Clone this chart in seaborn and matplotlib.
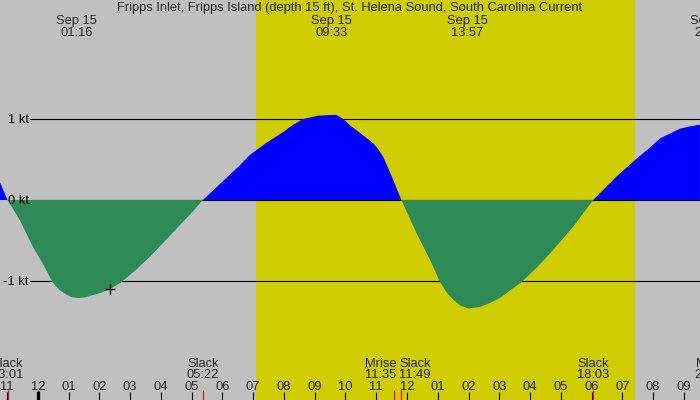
import numpy as np
import pandas as pd
import matplotlib
matplotlib.use("Agg")
import matplotlib.pyplot as plt
import seaborn as sns
from matplotlib.transforms import blended_transform_factory

# ---------------- data ----------------
title = "Fripps Inlet, Fripps Island (depth 15 ft), St. Helena Sound, South Carolina Current"

# hours after midnight Sep 15, current speed in knots
hours = [-1.23, -0.983, -0.58, -0.155, 0.20, 0.47, 0.70, 0.94, 1.10, 1.31,
         1.50, 1.65, 2.02, 2.35, 2.73, 3.20, 3.65, 4.10, 4.52, 4.95,
         5.367, 5.90, 6.57, 6.90, 7.45, 7.98, 8.30, 8.63, 9.10, 9.50,
         9.71, 9.93, 10.15, 10.50, 10.90, 11.06, 11.23, 11.38, 11.55, 11.817,
         12.31, 12.75, 13.07, 13.30, 13.50, 13.72, 13.99, 14.37, 14.70, 15.02,
         15.73, 16.20, 16.65, 17.40, 18.05, 18.81, 19.46, 19.90, 20.22, 20.87,
         21.20, 21.52]
speed = [0.22, 0.0, -0.25, -0.58, -0.81, -1.01, -1.11, -1.17, -1.20, -1.21,
         -1.205, -1.19, -1.15, -1.10, -1.01, -0.86, -0.70, -0.52, -0.35, -0.18,
         0.0, 0.19, 0.43, 0.56, 0.71, 0.84, 0.93, 1.00, 1.04, 1.05,
         1.05, 1.00, 0.92, 0.82, 0.70, 0.63, 0.53, 0.40, 0.25, 0.0,
         -0.41, -0.74, -1.01, -1.15, -1.23, -1.30, -1.34, -1.32, -1.27, -1.21,
         -1.01, -0.84, -0.66, -0.33, 0.0, 0.29, 0.51, 0.65, 0.76, 0.88,
         0.91, 0.93]

sunrise, sunset = 7.09, 19.41

peak_hours = [1.267, 9.55, 13.95, 21.86]
peak_dates = ["Sep 15", "Sep 15", "Sep 15", "Sep 15"]
peak_times = ["01:16", "09:33", "13:57", "21:52"]

event_hours = [-0.983, 5.367, 11.583, 11.817, 18.05, 21.86]
event_names = ["Slack", "Slack", "Mrise", "Slack", "Slack", "Mset"]
event_times = ["23:01", "05:22", "11:35", "11:49", "18:03", "21:52"]

tick_hours = list(range(-1, 22))
tick_labels = ["11", "12", "01", "02", "03", "04", "05", "06", "07", "08", "09",
               "10", "11", "12", "01", "02", "03", "04", "05", "06", "07", "08", "09"]

level_values = [1, 0, -1]
level_labels = ["1 kt", "0 kt", "-1 kt"]

now_hour, now_speed = 2.35, -1.10

# ---------------- style ----------------
GRAY = "#c0c0c0"
YELLOW = "#cfcc00"
BLUE = "#0000ff"
GREEN = "#2e8b57"

sns.set_style("white")
plt.rcParams["font.family"] = ["Liberation Sans", "DejaVu Sans"]
FS = 9.3

W, H = 700, 400
PX_PER_KT = 81.0
fig = plt.figure(figsize=(7, 4), dpi=100, facecolor=GRAY)
ax = fig.add_axes([0, 0, 1, 1])
ax.set_facecolor(GRAY)
for s in ax.spines.values():
    s.set_visible(False)

x0 = -1 - 7 / 30.77
x1 = x0 + W / 30.77

def ypx(p):
    return 1 - p / H

xT = ax.get_xaxis_transform()          # x data, y axes
yT = blended_transform_factory(ax.transAxes, ax.transData)

# daylight
ax.axvspan(sunrise, sunset, color=YELLOW, lw=0, zorder=0)

# level lines
for v in level_values:
    ax.axhline(v, xmin=30 / W, xmax=1, color="black", lw=0.8, zorder=1)

# current curve
df = pd.DataFrame({"hour": hours, "speed": speed})
h = np.array(hours)
sp = np.array(speed)
ax.fill_between(h, sp, 0, where=sp >= 0, interpolate=True, color=BLUE, lw=0, zorder=2)
ax.fill_between(h, sp, 0, where=sp <= 0, interpolate=True, color=GREEN, lw=0, zorder=2)
sns.lineplot(data=df, x="hour", y="speed", ax=ax, lw=0, legend=False)
ax.set_xlabel("")
ax.set_ylabel("")
ax.set_xticks([])
ax.set_yticks([])
ax.set_xlim(x0, x1)
ax.set_ylim(-(H / 2) / PX_PER_KT, (H / 2) / PX_PER_KT)

# level labels
for v, lab in zip(level_values, level_labels):
    ax.text(28.5 / W, v - 4 / PX_PER_KT, lab, transform=yT, ha="right", va="baseline",
            fontsize=FS, color="black", zorder=5)

# now marker
ax.plot([now_hour], [now_speed], marker="+", ms=7, mew=1, color="black", zorder=6)

# title and peak labels
ax.text(0.5, ypx(11.5), title, transform=ax.transAxes, ha="center", va="baseline",
        fontsize=FS, zorder=5)
for hh, d, t in zip(peak_hours, peak_dates, peak_times):
    ax.text(hh, ypx(24), d, transform=xT, ha="center", va="baseline", fontsize=FS, zorder=5)
    ax.text(hh, ypx(36), t, transform=xT, ha="center", va="baseline", fontsize=FS, zorder=5)

# event labels with simple collision avoidance
px_per_h = W / (x1 - x0)
centers = [(e - x0) * px_per_h for e in event_hours]
lab_w = 34
order = np.argsort(centers)
pos = list(centers)
for a, b in zip(order[:-1], order[1:]):
    gap = pos[b] - pos[a]
    if gap < lab_w:
        d = (lab_w - gap) / 2
        pos[a] -= d
        pos[b] += d
for p, n, t in zip(pos, event_names, event_times):
    xx = p / W
    ax.text(xx, ypx(366.7), n, transform=ax.transAxes, ha="center", va="baseline",
            fontsize=FS, zorder=5)
    ax.text(xx, ypx(377.7), t, transform=ax.transAxes, ha="center", va="baseline",
            fontsize=FS, zorder=5)

# hour ticks
ax.vlines(tick_hours, 0, 8 / H, transform=xT, color="black", lw=0.8, zorder=4)
ax.vlines([0], 0, 9 / H, transform=xT, color="black", lw=2.4, zorder=4)
for hh, lab in zip(tick_hours, tick_labels):
    ax.text(hh, ypx(390), lab, transform=xT, ha="center", va="baseline", fontsize=FS, zorder=5)
ax.vlines(event_hours, 0, 10 / H, transform=xT, color="red", lw=0.8, zorder=4)

fig.savefig("out.png", dpi=100, facecolor=GRAY)
